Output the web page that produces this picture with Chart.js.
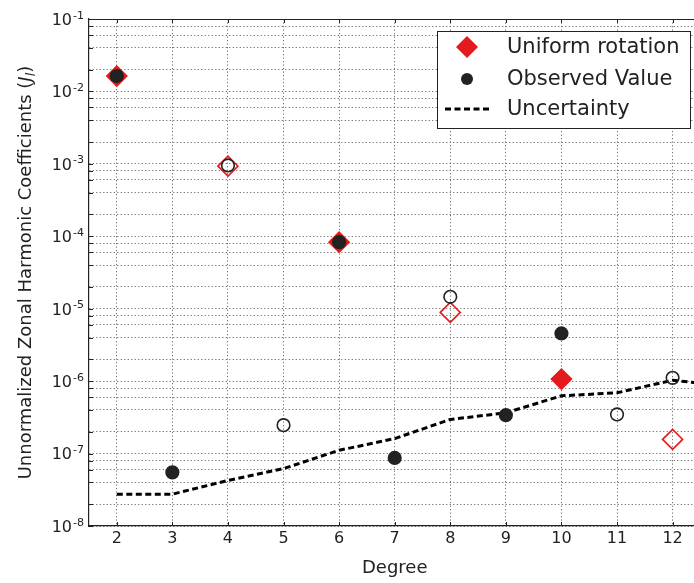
<!DOCTYPE html>
<html>
<head>
<meta charset="utf-8">
<script src="https://cdn.jsdelivr.net/npm/chart.js@4.4.1/dist/chart.umd.min.js"></script>
<style>
  html, body { margin: 0; padding: 0; background: #fff; overflow: hidden; }
  canvas { display: block; }
</style>
</head>
<body>
<canvas id="c" width="712" height="583"></canvas>
<script>
// Degree axis ticks and log-axis decades
const degreeTicks = [2, 3, 4, 5, 6, 7, 8, 9, 10, 11, 12];
const yDecades = [-8, -7, -6, -5, -4, -3, -2, -1];
const yMinorSteps = [2, 4, 6, 8];

// Signed zonal harmonics: negative values are drawn as open markers
const uniformDegrees = [2, 4, 6, 8, 10, 12];
const uniformJ = [1.63e-2, -9.3e-4, 8.3e-5, -8.9e-6, 1.07e-6, -1.57e-7];

const observedDegrees = [2, 3, 4, 5, 6, 7, 8, 9, 10, 11, 12];
const observedJ = [1.63e-2, 5.5e-8, -9.5e-4, -2.47e-7, 8.3e-5, 8.7e-8, -1.46e-5, 3.39e-7, 4.56e-6, -3.47e-7, -1.11e-6];

const uncertaintyDegrees = [2, 3, 4, 5, 6, 7, 8, 9, 10, 11, 12, 13];
const uncertaintyJ = [2.75e-8, 2.75e-8, 4.25e-8, 6.2e-8, 1.11e-7, 1.61e-7, 2.96e-7, 3.65e-7, 6.27e-7, 6.9e-7, 1.03e-6, 8.5e-7];

const RED = '#e41a1c';
const INK = '#222222';
const GRID = '#6e6e6e';
const FONT = '"DejaVu Sans", "Bitstream Vera Sans", sans-serif';
const DASH = [6, 3.5];
const GRID_DASH = [1.2, 2.3];

const toPoints = (xs, ys) => xs.map((d, i) => ({ x: d, y: Math.abs(ys[i]) }));
const fillBySign = (ys, color) => ys.map(v => (v > 0 ? color : 'rgba(0,0,0,0)'));

const yTickValues = [];
yDecades.forEach(e => {
  yTickValues.push(Math.pow(10, e));
  if (e < yDecades[yDecades.length - 1]) {
    yMinorSteps.forEach(s => yTickValues.push(s * Math.pow(10, e)));
  }
});

const decor = {
  id: 'decor',
  beforeDraw(chart) {
    const { ctx, width, height } = chart;
    ctx.save();
    ctx.fillStyle = '#fff';
    ctx.fillRect(0, 0, width, height);
    ctx.restore();
  },
  afterDraw(chart) {
    const { ctx, chartArea: a, scales: { x, y } } = chart;
    ctx.save();

    // frame top edge
    ctx.strokeStyle = INK;
    ctx.lineWidth = 1.2;
    ctx.beginPath();
    ctx.moveTo(a.left, a.top + 0.5);
    ctx.lineTo(a.right, a.top + 0.5);
    ctx.stroke();

    // inward tick marks
    ctx.lineWidth = 1;
    ctx.beginPath();
    degreeTicks.forEach(d => {
      const px = Math.round(x.getPixelForValue(d)) + 0.5;
      ctx.moveTo(px, a.bottom); ctx.lineTo(px, a.bottom - 4);
      ctx.moveTo(px, a.top); ctx.lineTo(px, a.top + 4);
    });
    yTickValues.forEach(v => {
      const py = Math.round(y.getPixelForValue(v)) + 0.5;
      ctx.moveTo(a.left, py); ctx.lineTo(a.left + 4, py);
    });
    ctx.stroke();

    // power-of-ten labels
    ctx.fillStyle = INK;
    ctx.textBaseline = 'alphabetic';
    yDecades.forEach(e => {
      const py = y.getPixelForValue(Math.pow(10, e));
      const expText = '-' + Math.abs(e);
      ctx.font = '11px ' + FONT;
      const ew = ctx.measureText(expText).width;
      const right = a.left - 5;
      ctx.textAlign = 'left';
      ctx.fillText(expText, right - ew, py - 0.5);
      ctx.font = '16px ' + FONT;
      ctx.textAlign = 'right';
      ctx.fillText('10', right - ew - 1, py + 5.8);
    });

    // rotated y-axis title with italic J_l
    const parts = [
      { t: 'Unnormalized Zonal Harmonic Coefficients (', f: '18px ' + FONT, dy: 0 },
      { t: 'J', f: 'italic 18px ' + FONT, dy: 0 },
      { t: 'l', f: 'italic 13px ' + FONT, dy: 4 },
      { t: ')', f: '18px ' + FONT, dy: 0 }
    ];
    let total = 0;
    parts.forEach(p => { ctx.font = p.f; p.w = ctx.measureText(p.t).width; total += p.w; });
    ctx.translate(30.5, (a.top + a.bottom) / 2);
    ctx.rotate(-Math.PI / 2);
    ctx.textAlign = 'left';
    let cx = -total / 2;
    parts.forEach(p => { ctx.font = p.f; ctx.fillText(p.t, cx, p.dy); cx += p.w; });
    ctx.setTransform(1, 0, 0, 1, 0, 0);

    // legend
    const L = { left: 437.5, top: 31.5, right: 690.5, bottom: 128.5 };
    ctx.fillStyle = '#fff';
    ctx.strokeStyle = INK;
    ctx.lineWidth = 1;
    ctx.fillRect(L.left, L.top, L.right - L.left, L.bottom - L.top);
    ctx.strokeRect(L.left, L.top, L.right - L.left, L.bottom - L.top);

    const mx = 467, tx = 507;
    const rows = [47, 79, 109];
    const ds = chart.data.datasets;

    // diamond
    ctx.fillStyle = RED;
    ctx.beginPath();
    ctx.moveTo(mx, rows[0] - 11); ctx.lineTo(mx + 11, rows[0]);
    ctx.lineTo(mx, rows[0] + 11); ctx.lineTo(mx - 11, rows[0]);
    ctx.closePath(); ctx.fill();
    // dot
    ctx.fillStyle = INK;
    ctx.beginPath(); ctx.arc(mx, rows[1], 6, 0, Math.PI * 2); ctx.fill();
    // dashed line
    ctx.strokeStyle = '#000';
    ctx.lineWidth = 3;
    ctx.setLineDash(DASH);
    ctx.beginPath(); ctx.moveTo(445, rows[2]); ctx.lineTo(490, rows[2]); ctx.stroke();
    ctx.setLineDash([]);

    ctx.fillStyle = INK;
    ctx.font = '21px ' + FONT;
    ctx.textAlign = 'left';
    ctx.textBaseline = 'middle';
    [ds[1].label, ds[0].label, ds[2].label].forEach((t, i) => ctx.fillText(t, tx, rows[i] + 1));

    ctx.restore();
  }
};

new Chart(document.getElementById('c'), {
  type: 'scatter',
  data: {
    datasets: [
      {
        label: 'Observed Value',
        data: toPoints(observedDegrees, observedJ),
        pointStyle: 'circle',
        pointRadius: 6.3,
        backgroundColor: fillBySign(observedJ, INK),
        borderColor: INK,
        borderWidth: 1.6,
        order: 0
      },
      {
        label: 'Uniform rotation',
        data: toPoints(uniformDegrees, uniformJ),
        pointStyle: 'rectRot',
        pointRadius: 10,
        backgroundColor: fillBySign(uniformJ, RED),
        borderColor: RED,
        borderWidth: 1.6,
        order: 1
      },
      {
        label: 'Uncertainty',
        data: toPoints(uncertaintyDegrees, uncertaintyJ),
        showLine: true,
        pointRadius: 0,
        borderColor: '#000',
        borderWidth: 3,
        borderDash: DASH,
        fill: false,
        tension: 0,
        order: 2
      }
    ]
  },
  options: {
    responsive: false,
    animation: false,
    events: [],
    layout: { padding: { left: 0, top: 19, right: 9, bottom: 0 } },
    plugins: { legend: { display: false }, tooltip: { enabled: false } },
    scales: {
      x: {
        type: 'linear',
        min: 1.5,
        max: 12.5,
        afterBuildTicks: s => { s.ticks = degreeTicks.map(v => ({ value: v })); },
        afterFit: s => { s.height = 57; },
        grid: { color: GRID, lineWidth: 1, drawTicks: false },
        border: { display: true, color: INK, width: 1.2, dash: GRID_DASH },
        ticks: { color: INK, font: { family: FONT, size: 16 }, padding: 3, maxRotation: 0, autoSkip: false },
        title: { display: true, text: 'Degree', color: INK, font: { family: FONT, size: 18 }, padding: { top: 0, bottom: 3.5 } }
      },
      y: {
        type: 'logarithmic',
        min: 1e-8,
        max: 1e-1,
        afterBuildTicks: s => { s.ticks = yTickValues.map(v => ({ value: v })); },
        afterFit: s => { s.width = 89; },
        grid: { color: GRID, lineWidth: 1, drawTicks: false },
        border: { display: true, color: INK, width: 1.2, dash: GRID_DASH },
        ticks: { display: false }
      }
    }
  },
  plugins: [decor]
});
</script>
</body>
</html>
